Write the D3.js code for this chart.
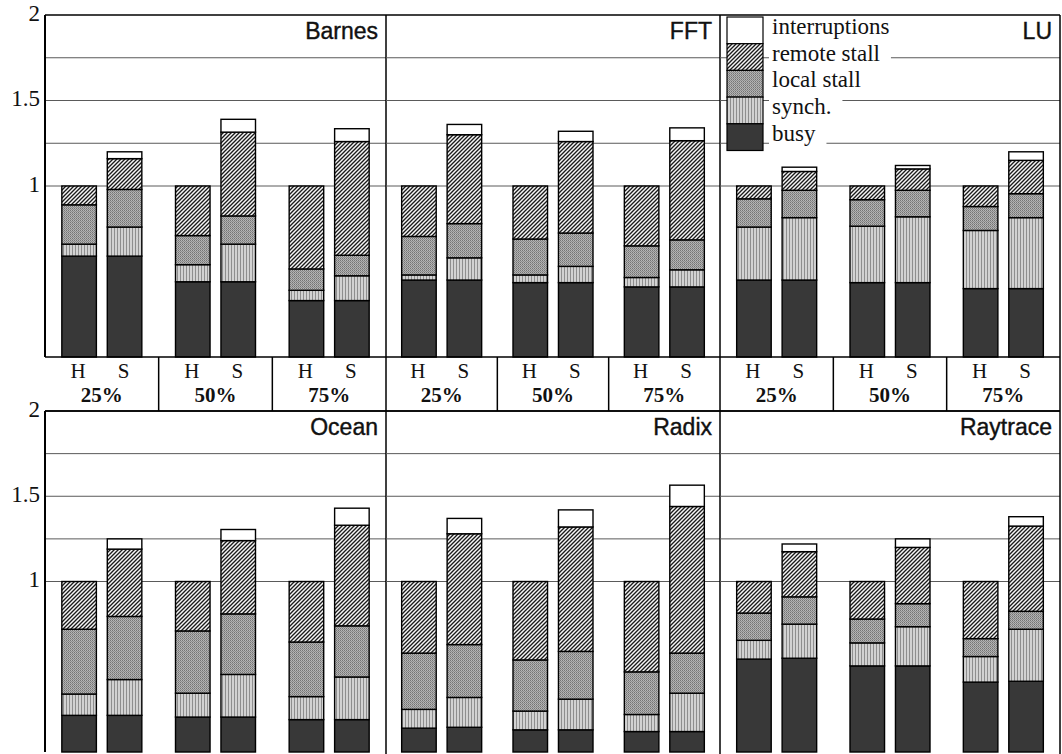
<!DOCTYPE html>
<html>
<head>
<meta charset="utf-8">
<script src="https://cdn.jsdelivr.net/npm/d3@7"></script>
<style>
  body { margin: 0; background: #fff; }
  svg { display: block; }
</style>
</head>
<body>
<svg id="chart" width="1062" height="754"></svg>
<script>
// ---- data -------------------------------------------------------------
const benchmarks = ["Barnes", "FFT", "LU", "Ocean", "Radix", "Raytrace"];
const sharing = ["25%", "50%", "75%"];
const systems = ["H", "S"];
const components = ["busy", "synch", "local", "remote", "interrupts"];
const legendLabels = ["interruptions", "remote stall", "local stall", "synch.", "busy"];
const yTicks = [1, 1.5, 2];
const gridValues = [1, 1.25, 1.5, 1.75];

// normalized execution time, per benchmark: H 25%, S 25%, H 50%, S 50%, H 75%, S 75%
const busy = [
  [0.59, 0.59, 0.44, 0.44, 0.33, 0.33],
  [0.45, 0.45, 0.435, 0.435, 0.41, 0.41],
  [0.45, 0.45, 0.435, 0.435, 0.40, 0.40],
  [0.215, 0.215, 0.205, 0.205, 0.19, 0.19],
  [0.14, 0.145, 0.13, 0.13, 0.12, 0.12],
  [0.545, 0.55, 0.505, 0.505, 0.41, 0.415]
];
const synch = [
  [0.07, 0.17, 0.10, 0.22, 0.06, 0.145],
  [0.03, 0.13, 0.045, 0.095, 0.055, 0.10],
  [0.31, 0.365, 0.33, 0.385, 0.34, 0.415],
  [0.125, 0.21, 0.14, 0.25, 0.135, 0.25],
  [0.11, 0.175, 0.11, 0.18, 0.10, 0.225],
  [0.11, 0.20, 0.135, 0.23, 0.15, 0.305]
];
const localStall = [
  [0.23, 0.22, 0.17, 0.165, 0.125, 0.12],
  [0.225, 0.20, 0.21, 0.195, 0.185, 0.175],
  [0.165, 0.16, 0.155, 0.155, 0.14, 0.14],
  [0.38, 0.37, 0.365, 0.355, 0.32, 0.30],
  [0.33, 0.31, 0.30, 0.28, 0.25, 0.235],
  [0.16, 0.16, 0.14, 0.135, 0.105, 0.105]
];
const remoteStall = [
  [0.11, 0.18, 0.29, 0.49, 0.485, 0.665],
  [0.295, 0.52, 0.31, 0.535, 0.35, 0.58],
  [0.075, 0.11, 0.08, 0.125, 0.12, 0.195],
  [0.28, 0.395, 0.29, 0.43, 0.355, 0.59],
  [0.42, 0.65, 0.46, 0.73, 0.53, 0.86],
  [0.185, 0.265, 0.22, 0.33, 0.335, 0.50]
];
const interrupts = [
  [0, 0.04, 0, 0.075, 0, 0.075],
  [0, 0.06, 0, 0.06, 0, 0.075],
  [0, 0.025, 0, 0.02, 0, 0.05],
  [0, 0.06, 0, 0.065, 0, 0.10],
  [0, 0.09, 0, 0.10, 0, 0.125],
  [0, 0.045, 0, 0.05, 0, 0.055]
];

// ---- layout -----------------------------------------------------------
const svg = d3.select("#chart");
const panelEdges = [45, 386, 720, 1060];
const rows = [{ top: 15, base: 357 }, { top: 411, base: 752 }];
const labelBottom = 411;
const serif = "'Liberation Serif', 'Times New Roman', serif";
const sans = "'Liberation Sans', Arial, sans-serif";

// ---- fill patterns ----------------------------------------------------
const defs = svg.append("defs");

// remote stall: fine "/" hatching
const pRemote = defs.append("pattern").attr("id", "pat-remote")
  .attr("patternUnits", "userSpaceOnUse").attr("width", 4).attr("height", 4);
pRemote.append("rect").attr("width", 4).attr("height", 4).attr("fill", "#f6f6f6");
pRemote.append("path").attr("d", "M-1,1 L1,-1 M0,4 L4,0 M3,5 L5,3")
  .attr("stroke", "#1a1a1a").attr("stroke-width", 1.35);

// local stall: even, stippled mid grey
const pLocal = defs.append("pattern").attr("id", "pat-local")
  .attr("patternUnits", "userSpaceOnUse").attr("width", 2).attr("height", 2);
[[0, 0, "#747474"], [1, 1, "#8a8a8a"], [1, 0, "#b8b8b8"], [0, 1, "#adadad"]]
  .forEach(([x, y, c]) => pLocal.append("rect").attr("x", x).attr("y", y).attr("width", 1).attr("height", 1).attr("fill", c));

// synch: light grey with vertical rulings
const pSynch = defs.append("pattern").attr("id", "pat-synch")
  .attr("patternUnits", "userSpaceOnUse").attr("width", 3).attr("height", 3);
pSynch.append("rect").attr("width", 3).attr("height", 3).attr("fill", "#d2d2d2");
pSynch.append("rect").attr("x", 0).attr("width", 1).attr("height", 3).attr("fill", "#8e8e8e");

const fills = {
  busy: "#383838",
  synch: "url(#pat-synch)",
  local: "url(#pat-local)",
  remote: "url(#pat-remote)",
  interrupts: "#ffffff"
};

// ---- table of bars ----------------------------------------------------
const table = [];
benchmarks.forEach((b, bi) => {
  sharing.forEach((s, si) => {
    systems.forEach((sys, ki) => {
      const j = si * 2 + ki;
      table.push({
        bench: b, share: s, sys: sys,
        busy: busy[bi][j], synch: synch[bi][j], local: localStall[bi][j],
        remote: remoteStall[bi][j], interrupts: interrupts[bi][j]
      });
    });
  });
});

const stack = d3.stack().keys(components);

// ---- panels -----------------------------------------------------------
benchmarks.forEach((bench, bi) => {
  const r = Math.floor(bi / 3), c = bi % 3;
  const row = rows[r];
  const x0 = panelEdges[c], x1 = panelEdges[c + 1];
  const y = d3.scaleLinear().domain([0, 2]).range([row.base, row.top]);
  const xGroup = d3.scaleBand().domain(sharing).range([x0, x1]);
  const xSys = d3.scaleBand().domain(systems).range([-40, 40]).paddingInner(0.24);

  const g = svg.append("g").attr("class", "panel");

  // horizontal reference lines
  g.selectAll("line.grid").data(gridValues).join("line")
    .attr("class", "grid")
    .attr("x1", x0).attr("x2", x1)
    .attr("y1", d => y(d)).attr("y2", d => y(d))
    .attr("stroke", "#5a5a5a").attr("stroke-width", 1);

  // stacked bars
  const rowsHere = table.filter(d => d.bench === bench);
  const series = stack(rowsHere);
  const barX = d => xGroup(d.data.share) + xGroup.bandwidth() / 2 + xSys(d.data.sys);
  series.forEach(layer => {
    g.append("g").selectAll("rect").data(layer.filter(d => d[1] - d[0] > 0)).join("rect")
      .attr("x", barX)
      .attr("width", xSys.bandwidth())
      .attr("y", d => y(d[1]))
      .attr("height", d => y(d[0]) - y(d[1]))
      .attr("fill", fills[layer.key])
      .attr("stroke", "#000").attr("stroke-width", 1.4);
  });

  // frame
  g.append("line").attr("x1", x0).attr("x2", x1).attr("y1", row.top).attr("y2", row.top)
    .attr("stroke", "#000").attr("stroke-width", 1.5);
  g.append("line").attr("x1", x1).attr("x2", x1).attr("y1", row.top).attr("y2", r === 0 ? labelBottom : 754)
    .attr("stroke", "#000").attr("stroke-width", 1.5);
  if (r === 0) {
    g.append("line").attr("x1", x0).attr("x2", x1).attr("y1", row.base).attr("y2", row.base)
      .attr("stroke", "#000").attr("stroke-width", 1.5);
  }

  // benchmark name
  g.append("text")
    .attr("x", x1 - 8).attr("y", row.top + 24)
    .attr("text-anchor", "end")
    .attr("font-family", sans).attr("font-size", 23).attr("fill", "#111")
    .attr("stroke", "#111").attr("stroke-width", 0.4)
    .text(bench);

  // category labels under the top row
  if (r === 0) {
    sharing.forEach((s, si) => {
      const cx = xGroup(s) + xGroup.bandwidth() / 2;
      systems.forEach(sys => {
        g.append("text")
          .attr("x", cx + xSys(sys) + xSys.bandwidth() / 2 - 1)
          .attr("y", row.base + 21)
          .attr("text-anchor", "middle")
          .attr("font-family", serif).attr("font-size", 21).attr("fill", "#111")
          .text(sys);
      });
      g.append("text")
        .attr("x", cx).attr("y", row.base + 45)
        .attr("text-anchor", "middle")
        .attr("font-family", serif).attr("font-size", 21).attr("font-weight", "bold").attr("fill", "#111")
        .text(s);
      if (si > 0) {
        g.append("line").attr("x1", xGroup(s)).attr("x2", xGroup(s))
          .attr("y1", row.base).attr("y2", labelBottom)
          .attr("stroke", "#000").attr("stroke-width", 1.5);
      }
    });
  }
});

// bottom edge of the label strip
svg.append("line").attr("x1", 45).attr("x2", 1060).attr("y1", labelBottom).attr("y2", labelBottom)
  .attr("stroke", "#000").attr("stroke-width", 1.5);

// ---- y axes -----------------------------------------------------------
rows.forEach(row => {
  const y = d3.scaleLinear().domain([0, 2]).range([row.base, row.top]);
  const ax = svg.append("g").attr("transform", "translate(45,0)")
    .call(d3.axisLeft(y).tickValues(yTicks).tickSize(0).tickPadding(5).tickFormat(d3.format("")));
  ax.select(".domain").attr("stroke", "#000").attr("stroke-width", 2)
    .attr("d", `M0,${row.top}V${row.base}`);
  ax.selectAll("text")
    .attr("font-family", serif).attr("font-size", 23).attr("fill", "#111")
    .attr("dy", "0.22em");
});

// ---- legend (inside the LU panel) -------------------------------------
const legend = svg.append("g").attr("transform", "translate(727,17)");
const legendFills = [fills.interrupts, fills.remote, fills.local, fills.synch, fills.busy];
const rowH = 26.7;
legendLabels.forEach((lab, i) => {
  legend.append("rect")
    .attr("x", 0).attr("y", i * rowH)
    .attr("width", 36).attr("height", rowH)
    .attr("fill", legendFills[i])
    .attr("stroke", "#000").attr("stroke-width", 1.2);
  const t = legend.append("text")
    .attr("x", 45).attr("y", i * rowH + 17)
    .attr("font-family", serif).attr("font-size", 23).attr("fill", "#111")
    .text(lab);
  const w = t.node().getComputedTextLength();
  legend.insert("rect", "text:last-of-type")
    .attr("x", 42).attr("y", i * rowH + 1)
    .attr("width", w + 14).attr("height", 22)
    .attr("fill", "#fff");
});
</script>
</body>
</html>
